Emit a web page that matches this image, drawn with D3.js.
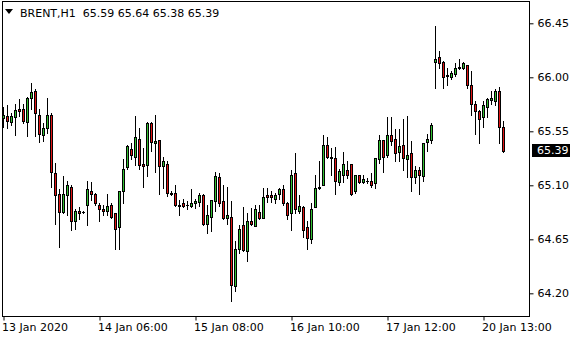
<!DOCTYPE html>
<html>
<head>
<meta charset="utf-8">
<script src="https://cdn.jsdelivr.net/npm/d3@7"></script>
<style>
  body { margin: 0; background: #fff; }
  svg text { font-family: "DejaVu Sans", sans-serif; font-size: 11px; }
</style>
</head>
<body>
<div id="app"></div>
<script>
// BRENT H1 candles, oldest first
const open = [65.66,65.68,65.63,65.67,65.74,65.74,65.63,65.83,65.89,65.69,65.52,65.58,65.69,65.20,65.03,64.88,65.02,65.09,64.80,64.89,64.88,64.94,65.05,65.03,64.94,64.90,64.89,64.94,64.87,64.75,65.05,65.25,65.40,65.34,65.49,65.28,65.27,65.62,65.45,65.48,65.26,65.28,65.04,65.04,64.94,64.95,64.94,64.93,64.95,64.96,65.02,64.78,64.84,64.97,65.17,64.97,64.83,64.84,64.26,64.57,64.77,64.55,64.80,64.76,64.88,64.83,65.02,65.02,64.99,65.03,65.07,64.95,64.87,65.20,64.89,64.92,64.75,64.65,64.92,65.08,65.10,65.44,65.34,65.33,65.13,65.19,65.23,65.28,65.05,65.19,65.13,65.14,65.14,65.12,65.32,65.48,65.35,65.52,65.49,65.38,65.44,65.32,65.37,65.17,65.23,65.18,65.46,65.48,66.13,66.17,66.13,66.02,66.00,66.03,66.08,66.08,66.10,65.94,65.78,65.72,65.67,65.75,65.81,65.80,65.89,65.59];
const high = [65.75,65.77,65.70,65.78,65.82,65.78,65.84,65.95,65.90,65.74,65.62,65.83,65.70,65.29,65.07,65.18,65.14,65.10,64.90,64.92,64.89,65.14,65.13,65.04,64.95,64.94,65.03,64.95,64.87,65.05,65.32,65.44,65.45,65.68,65.58,65.41,65.63,65.63,65.69,65.48,65.34,65.30,65.05,65.10,64.98,64.99,64.97,65.07,64.99,65.04,65.03,64.94,64.98,65.21,65.20,65.10,65.09,64.97,64.64,64.77,64.92,64.87,64.91,64.94,64.94,65.08,65.08,65.05,65.04,65.08,65.10,64.96,65.23,65.37,65.02,64.93,64.80,64.95,65.19,65.30,65.52,65.50,65.41,65.42,65.24,65.38,65.30,65.28,65.19,65.19,65.19,65.16,65.20,65.33,65.52,65.48,65.67,65.67,65.57,65.57,65.65,65.68,65.47,65.26,65.25,65.45,65.53,65.62,66.43,66.22,66.14,66.08,66.05,66.12,66.15,66.13,66.10,66.05,65.80,65.73,65.80,65.83,65.89,65.90,65.92,65.64];
const low = [65.59,65.58,65.60,65.52,65.68,65.62,65.51,65.74,65.51,65.46,65.47,65.54,65.09,64.78,64.59,64.87,64.85,64.73,64.74,64.82,64.87,64.77,64.98,64.94,64.80,64.85,64.85,64.83,64.57,64.57,64.95,65.24,65.32,65.27,65.24,65.09,65.18,65.39,65.21,65.03,65.08,65.01,65.02,64.93,64.85,64.92,64.90,64.92,64.91,64.93,64.77,64.70,64.72,64.89,64.93,64.82,64.78,64.14,64.22,64.54,64.55,64.47,64.77,64.76,64.82,64.83,64.96,64.96,64.95,64.99,64.94,64.82,64.73,64.87,64.87,64.67,64.57,64.62,64.92,65.07,65.10,65.33,65.19,65.03,65.10,65.13,65.16,65.02,65.04,65.12,65.12,65.12,65.09,65.08,65.29,65.21,65.34,65.44,65.30,65.30,65.23,65.17,65.05,65.12,65.03,65.14,65.39,65.45,65.91,66.08,65.91,65.94,65.99,66.01,66.07,66.07,65.91,65.69,65.53,65.45,65.59,65.67,65.78,65.77,65.45,65.38];
const close = [65.69,65.64,65.68,65.73,65.72,65.64,65.83,65.88,65.70,65.53,65.58,65.69,65.21,65.02,64.88,65.03,65.10,64.80,64.89,64.87,64.88,65.07,65.03,64.95,64.90,64.89,64.93,64.84,64.74,65.05,65.24,65.43,65.35,65.50,65.27,65.26,65.62,65.46,65.47,65.26,65.30,65.04,65.03,64.94,64.93,64.93,64.94,64.95,64.97,65.02,64.78,64.85,64.98,65.18,64.95,64.83,64.85,64.27,64.57,64.74,64.56,64.80,64.78,64.90,64.83,65.00,65.00,65.00,65.02,65.07,64.95,64.85,65.19,64.90,64.93,64.73,64.66,64.90,65.08,65.09,65.44,65.34,65.33,65.14,65.22,65.28,65.19,65.03,65.19,65.13,65.15,65.14,65.10,65.33,65.48,65.34,65.52,65.47,65.37,65.43,65.33,65.35,65.17,65.23,65.19,65.45,65.49,65.60,66.15,66.12,66.00,66.01,66.04,66.08,66.09,66.12,65.94,65.78,65.72,65.65,65.77,65.82,65.83,65.89,65.59,65.39];

const timeTickBars = [0, 24, 48, 72, 96, 120];
const timeTickLabels = ["13 Jan 2020", "14 Jan 06:00", "15 Jan 08:00", "16 Jan 10:00", "17 Jan 12:00", "20 Jan 13:00"];
const priceTicks = [64.20, 64.65, 65.10, 65.55, 66.00, 66.45];
const symbol = "BRENT,H1";

const width = 580, height = 340;
const frameL = 2, frameR = 529, frameT = 1, frameB = 316;

const candles = open.map((o, i) => ({ i, o, h: high[i], l: low[i], c: close[i] }));
const last = candles[candles.length - 1];

const svg = d3.select("#app").append("svg")
  .attr("width", width).attr("height", height);

const x = d3.scaleLinear().domain([0, 125]).range([3.5, 503.5]);
const y = d3.scaleLinear().domain([64.011, 66.6275]).range([frameB, 2]);

// frame
svg.append("rect")
  .attr("x", frameL + 0.5).attr("y", frameT + 0.5)
  .attr("width", frameR - frameL).attr("height", frameB - frameT)
  .attr("fill", "none").attr("stroke", "#000");

const g = svg.append("g");

// wicks
g.selectAll("line.wick").data(candles).enter().append("line")
  .attr("class", "wick")
  .attr("x1", d => x(d.i)).attr("x2", d => x(d.i))
  .attr("y1", d => Math.round(y(d.h))).attr("y2", d => Math.round(y(d.l)) + 1)
  .attr("stroke", "#000");

// bodies
const bodyTop = d => Math.round(y(Math.max(d.o, d.c)));
const bodyBot = d => Math.max(Math.round(y(Math.min(d.o, d.c))), bodyTop(d)) + 1;

g.selectAll("rect.body").data(candles).enter().append("rect")
  .attr("class", "body")
  .attr("x", d => x(d.i) - 1.5).attr("width", 3)
  .attr("y", bodyTop)
  .attr("height", d => bodyBot(d) - bodyTop(d))
  .attr("fill", "#000");

g.selectAll("rect.fill").data(candles.filter(d => bodyBot(d) - bodyTop(d) > 2)).enter().append("rect")
  .attr("class", "fill")
  .attr("x", d => x(d.i) - 0.5).attr("width", 1)
  .attr("y", d => bodyTop(d) + 1)
  .attr("height", d => bodyBot(d) - bodyTop(d) - 2)
  .attr("fill", d => d.c >= d.o ? "#32c032" : "#e01414");

// price axis
const yAxis = svg.append("g")
  .attr("transform", `translate(${frameR + 0.5},0)`)
  .call(d3.axisRight(y).tickValues(priceTicks).tickSize(4).tickPadding(4)
    .tickFormat(d3.format(".2f")));
yAxis.select(".domain").remove();
yAxis.selectAll("line").attr("stroke", "#000");
yAxis.selectAll("text").attr("fill", "#000").style("font-size", "11px")
  .style("font-family", "DejaVu Sans, sans-serif");

// current price label
const py = y(last.c);
svg.append("rect")
  .attr("x", frameR + 3).attr("y", Math.round(py) - 7)
  .attr("width", 38).attr("height", 13).attr("fill", "#000");
svg.append("text")
  .attr("x", frameR + 8).attr("y", py)
  .attr("dy", "0.32em")
  .attr("fill", "#fff")
  .text(d3.format(".2f")(last.c));

// time axis
const xAxis = svg.append("g")
  .attr("transform", `translate(0,${frameB + 0.5})`)
  .call(d3.axisBottom(x).tickValues(timeTickBars).tickSize(4).tickPadding(3)
    .tickFormat((d, k) => timeTickLabels[k]));
xAxis.select(".domain").remove();
xAxis.selectAll("line").attr("stroke", "#000");
xAxis.selectAll("text").attr("fill", "#000").attr("text-anchor", "start")
  .attr("x", -2)
  .style("font-size", "11px").style("font-family", "DejaVu Sans, sans-serif");

// header
svg.append("path")
  .attr("d", "M5,9 L13,9 L9,14 Z").attr("fill", "#000");
svg.append("text")
  .attr("x", 20).attr("y", 17)
  .attr("fill", "#000")
  .attr("xml:space", "preserve")
  .text(`${symbol}  ${[last.o, last.h, last.l, last.c].map(d3.format(".2f")).join(" ")}`);
</script>
</body>
</html>
